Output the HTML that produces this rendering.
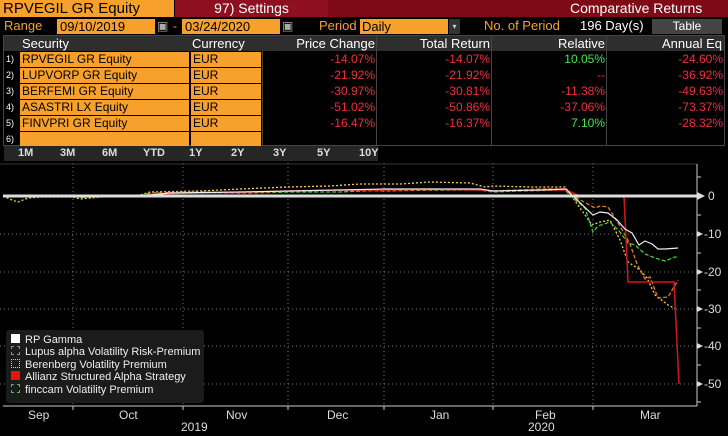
<!DOCTYPE html>
<html><head><meta charset="utf-8"><style>
*{margin:0;padding:0;box-sizing:border-box}
body{width:728px;height:436px;background:#000;font-family:"Liberation Sans",sans-serif;font-size:12px;color:#fff;position:relative;overflow:hidden}
.a{position:absolute;white-space:nowrap}
.or{background:#f7a12c;color:#000}
.ot{color:#f7a12c}
.r{color:#f0303a}
.g{color:#3fe84a}
.cell{position:absolute;height:15px;line-height:15px}
</style></head><body>
<!-- header row 1 -->
<div class="a or" style="left:0;top:0;width:174px;height:17px;font-size:15px;line-height:17px;padding-left:3px">RPVEGIL GR Equity</div>
<div class="a" style="left:175px;top:0;width:553px;height:17px;background:#7e0a18"></div>
<div class="a" style="left:175px;top:0;width:153px;height:17px;background:#8e1020;font-size:14px;line-height:17px;text-align:center">97) Settings</div>
<div class="a" style="left:570px;top:0;font-size:14px;line-height:17px">Comparative Returns</div>
<!-- row 2 -->
<div class="a ot" style="left:4px;top:18px;font-size:13px;line-height:16px">Range</div>
<div class="a or" style="left:57px;top:19px;width:98px;height:15px;font-size:13px;line-height:15px;padding-left:3px">09/10/2019</div>
<div class="a" style="left:157px;top:19px;color:#aaa;line-height:15px">▣</div>
<div class="a ot" style="left:173px;top:18px;line-height:16px">-</div>
<div class="a or" style="left:182px;top:19px;width:98px;height:15px;font-size:13px;line-height:15px;padding-left:3px">03/24/2020</div>
<div class="a" style="left:282px;top:19px;color:#aaa;line-height:15px">▣</div>
<div class="a ot" style="left:319px;top:18px;font-size:13px;line-height:16px">Period</div>
<div class="a or" style="left:360px;top:19px;width:88px;height:15px;font-size:13px;line-height:15px;padding-left:2px">Daily</div>
<div class="a" style="left:449px;top:19px;width:11px;height:15px;background:#333;color:#ccc;font-size:8px;line-height:15px;text-align:center">▾</div>
<div class="a ot" style="left:484px;top:18px;font-size:13px;line-height:16px">No. of Period</div>
<div class="a" style="left:580px;top:18px;font-size:13px;line-height:16px">196 Day(s)</div>
<div class="a" style="left:652px;top:19px;width:70px;height:15px;background:#444;line-height:15px;text-align:center">Table</div>
<!-- table -->
<div class="a" style="left:3px;top:35px;width:722px;height:111px;background:#000;border:1px solid #444"></div>
<div class="a" style="left:4px;top:36px;width:720px;height:15px;background:#2e2e2e"></div>
<div class="a" style="left:22px;top:36px;font-size:13px;line-height:15px">Security</div>
<div class="a" style="left:192px;top:36px;font-size:13px;line-height:15px">Currency</div>
<div class="a" style="left:262px;top:36px;width:113px;text-align:right;font-size:13px;line-height:15px">Price Change</div>
<div class="a" style="left:376px;top:36px;width:114px;text-align:right;font-size:13px;line-height:15px">Total Return</div>
<div class="a" style="left:491px;top:36px;width:114px;text-align:right;font-size:13px;line-height:15px">Relative</div>
<div class="a" style="left:606px;top:36px;width:116px;text-align:right;font-size:13px;line-height:15px">Annual Eq</div>
<div class="a" style="left:262px;top:51px;width:1px;height:95px;background:#444"></div>
<div class="a" style="left:376px;top:36px;width:1px;height:110px;background:#444"></div>
<div class="a" style="left:491px;top:36px;width:1px;height:110px;background:#444"></div>
<div class="a" style="left:606px;top:36px;width:1px;height:110px;background:#444"></div>
<div style="position:absolute;left:0;top:51px">
<div class="cell" style="left:6px;top:1px;font-size:9px">1)</div>
<div class="cell or" style="left:20px;top:1px;width:169px;padding-left:2px">RPVEGIL GR Equity</div>
<div class="cell or" style="left:191px;top:1px;width:70px;padding-left:2px">EUR</div>
<div class="cell r" style="left:262px;top:1px;width:113px;text-align:right">-14.07%</div>
<div class="cell r" style="left:376px;top:1px;width:114px;text-align:right">-14.07%</div>
<div class="cell g" style="left:491px;top:1px;width:114px;text-align:right">10.05%</div>
<div class="cell r" style="left:606px;top:1px;width:117px;text-align:right">-24.60%</div>

<div class="cell" style="left:6px;top:17px;font-size:9px">2)</div>
<div class="cell or" style="left:20px;top:17px;width:169px;padding-left:2px">LUPVORP GR Equity</div>
<div class="cell or" style="left:191px;top:17px;width:70px;padding-left:2px">EUR</div>
<div class="cell r" style="left:262px;top:17px;width:113px;text-align:right">-21.92%</div>
<div class="cell r" style="left:376px;top:17px;width:114px;text-align:right">-21.92%</div>
<div class="cell r" style="left:491px;top:17px;width:114px;text-align:right">--</div>
<div class="cell r" style="left:606px;top:17px;width:117px;text-align:right">-36.92%</div>

<div class="cell" style="left:6px;top:33px;font-size:9px">3)</div>
<div class="cell or" style="left:20px;top:33px;width:169px;padding-left:2px">BERFEMI GR Equity</div>
<div class="cell or" style="left:191px;top:33px;width:70px;padding-left:2px">EUR</div>
<div class="cell r" style="left:262px;top:33px;width:113px;text-align:right">-30.97%</div>
<div class="cell r" style="left:376px;top:33px;width:114px;text-align:right">-30.81%</div>
<div class="cell r" style="left:491px;top:33px;width:114px;text-align:right">-11.38%</div>
<div class="cell r" style="left:606px;top:33px;width:117px;text-align:right">-49.63%</div>

<div class="cell" style="left:6px;top:49px;font-size:9px">4)</div>
<div class="cell or" style="left:20px;top:49px;width:169px;padding-left:2px">ASASTRI LX Equity</div>
<div class="cell or" style="left:191px;top:49px;width:70px;padding-left:2px">EUR</div>
<div class="cell r" style="left:262px;top:49px;width:113px;text-align:right">-51.02%</div>
<div class="cell r" style="left:376px;top:49px;width:114px;text-align:right">-50.86%</div>
<div class="cell r" style="left:491px;top:49px;width:114px;text-align:right">-37.06%</div>
<div class="cell r" style="left:606px;top:49px;width:117px;text-align:right">-73.37%</div>

<div class="cell" style="left:6px;top:65px;font-size:9px">5)</div>
<div class="cell or" style="left:20px;top:65px;width:169px;padding-left:2px">FINVPRI GR Equity</div>
<div class="cell or" style="left:191px;top:65px;width:70px;padding-left:2px">EUR</div>
<div class="cell r" style="left:262px;top:65px;width:113px;text-align:right">-16.47%</div>
<div class="cell r" style="left:376px;top:65px;width:114px;text-align:right">-16.37%</div>
<div class="cell g" style="left:491px;top:65px;width:114px;text-align:right">7.10%</div>
<div class="cell r" style="left:606px;top:65px;width:117px;text-align:right">-28.32%</div>

<div class="cell" style="left:6px;top:81px;font-size:9px">6)</div>
<div class="cell or" style="left:20px;top:81px;width:169px"></div>
<div class="cell or" style="left:191px;top:81px;width:70px"></div>
</div>
<!-- tabs -->
<div class="a" style="left:4px;top:146px;width:355px;height:15px;background:#262626"></div>
<div class="a" style="left:0;top:146px;font-size:11px;line-height:15px;font-weight:bold;color:#ddd">
<span class="a" style="left:18px">1M</span><span class="a" style="left:60px">3M</span><span class="a" style="left:102px">6M</span><span class="a" style="left:143px">YTD</span><span class="a" style="left:189px">1Y</span><span class="a" style="left:231px">2Y</span><span class="a" style="left:273px">3Y</span><span class="a" style="left:317px">5Y</span><span class="a" style="left:359px">10Y</span>
</div>
<div class="a" style="left:355px;top:146px;width:23px;height:15px;background:#262626"></div>
<div class="a" style="left:359px;top:146px;font-size:11px;line-height:15px;font-weight:bold;color:#ddd">10Y</div>
<!-- chart -->
<svg class="a" style="left:0;top:0" width="728" height="436">
<g stroke="#777" stroke-width="1" stroke-dasharray="1,3">
<line x1="0" y1="234" x2="697" y2="234"/><line x1="0" y1="272" x2="697" y2="272"/><line x1="0" y1="309" x2="697" y2="309"/><line x1="0" y1="346" x2="697" y2="346"/><line x1="0" y1="384" x2="697" y2="384"/>
<line x1="73" y1="163" x2="73" y2="406"/><line x1="183" y1="163" x2="183" y2="406"/><line x1="288" y1="163" x2="288" y2="406"/><line x1="384" y1="163" x2="384" y2="406"/><line x1="493" y1="163" x2="493" y2="406"/><line x1="593" y1="163" x2="593" y2="406"/>
</g>
<line x1="0" y1="164" x2="697" y2="164" stroke="#333"/>
<line x1="697" y1="164" x2="697" y2="406" stroke="#ccc"/>
<line x1="3" y1="406" x2="697" y2="406" stroke="#ccc"/>
<g stroke="#ccc">
<line x1="697" y1="177" x2="701" y2="177"/><line x1="697" y1="215" x2="701" y2="215"/><line x1="697" y1="253" x2="701" y2="253"/><line x1="697" y1="290" x2="701" y2="290"/><line x1="697" y1="328" x2="701" y2="328"/><line x1="697" y1="365" x2="701" y2="365"/><line x1="697" y1="402" x2="701" y2="402"/>
<line x1="73" y1="406" x2="73" y2="410"/><line x1="183" y1="406" x2="183" y2="410"/><line x1="288" y1="406" x2="288" y2="410"/><line x1="384" y1="406" x2="384" y2="410"/><line x1="493" y1="406" x2="493" y2="410"/><line x1="593" y1="406" x2="593" y2="410"/>
</g>
<g fill="#ddd"><path d="M697 192 L705 196 L697 200Z"/><path d="M697 231 L703 234 L697 237Z"/><path d="M697 269 L703 272 L697 275Z"/><path d="M697 306 L703 309 L697 312Z"/><path d="M697 343 L703 346 L697 349Z"/><path d="M697 381 L703 384 L697 387Z"/></g>
<g fill="#ddd" font-size="12" font-family="Liberation Sans, sans-serif">
<text x="708" y="200">0</text><text x="704" y="238">-10</text><text x="704" y="276">-20</text><text x="704" y="313">-30</text><text x="704" y="350">-40</text><text x="704" y="388">-50</text>
<text x="28" y="419">Sep</text><text x="119" y="419">Oct</text><text x="226" y="419">Nov</text><text x="327" y="419">Dec</text><text x="430" y="419">Jan</text><text x="535" y="419">Feb</text><text x="640" y="419">Mar</text>
<text x="181" y="431">2019</text><text x="528" y="431">2020</text>
</g>
<!-- series -->
<polyline fill="none" stroke="#f5d34a" stroke-width="1.3" stroke-dasharray="2,2" points="3,196 12,200 18,202 28,198 40,197 73,197 80,199 100,197 140,195 150,192 200,191 240,189 288,187 330,186 360,184 400,184 430,182 470,183 485,187 493,186 530,187 565,187 573,198 592,225 600,222 610,220 620,240 628,262 640,270 647,278 655,295 668,305 678,310"/>
<polyline fill="none" stroke="#3fcc3a" stroke-width="1.3" stroke-dasharray="4,2" points="3,196 75,196 80,198 90,196 140,196 150,194 200,193 250,193 290,192 340,192 384,190 430,190 480,190 493,192 520,191 565,190 573,198 585,208 593,232 598,226 610,222 620,232 628,243 635,245 645,254 655,258 665,261 675,257 678,257"/>
<polyline fill="none" stroke="#e07a2a" stroke-width="1.3" stroke-dasharray="4,2" points="3,196 140,196 150,193 200,192 240,193 290,191 340,190 384,191 430,190 480,190 493,191 540,189 565,189 573,196 595,208 600,206 608,207 620,226 630,244 637,264 645,279 650,277 658,298 668,297 678,280"/>
<polyline fill="none" stroke="#d01818" stroke-width="1.5" points="150,194 200,193 250,192 290,191 340,190 384,190 430,189 480,190 493,191 540,190 566,190 573,193 580,196 624,196 628,282 674,282 679,384"/>
<polyline fill="none" stroke="#eee" stroke-width="1.2" points="3,196 150,195 170,193 240,192 290,191 340,190 384,189 430,189 480,189 493,191 540,190 566,189 573,196 593,215 600,212 608,213 617,220 625,229 632,233 639,245 645,241 652,244 658,249 665,249 678,248"/>
<line x1="3" y1="196" x2="697" y2="196" stroke="#ddd" stroke-width="3"/>
</svg>
<!-- legend -->
<div class="a" style="left:6px;top:330px;width:198px;height:73px;background:#1b1b1b;border-radius:3px"></div>
<div class="a" style="left:11px;top:334px;font-size:11px;line-height:12.4px;color:#eee">
<div><span style="display:inline-block;width:9px;height:9px;background:#fff;margin-right:5px"></span>RP Gamma</div>
<div><span style="display:inline-block;width:9px;height:9px;border:1px dashed #e07a2a;margin-right:5px"></span>Lupus alpha Volatility Risk-Premium</div>
<div><span style="display:inline-block;width:9px;height:9px;border:1px dotted #f5d34a;margin-right:5px"></span>Berenberg Volatility Premium</div>
<div><span style="display:inline-block;width:9px;height:9px;background:#f01010;margin-right:5px"></span>Allianz Structured Alpha Strategy</div>
<div><span style="display:inline-block;width:9px;height:9px;border:1px dashed #3fcc3a;margin-right:5px"></span>finccam Volatility Premium</div>
</div>
</body></html>
